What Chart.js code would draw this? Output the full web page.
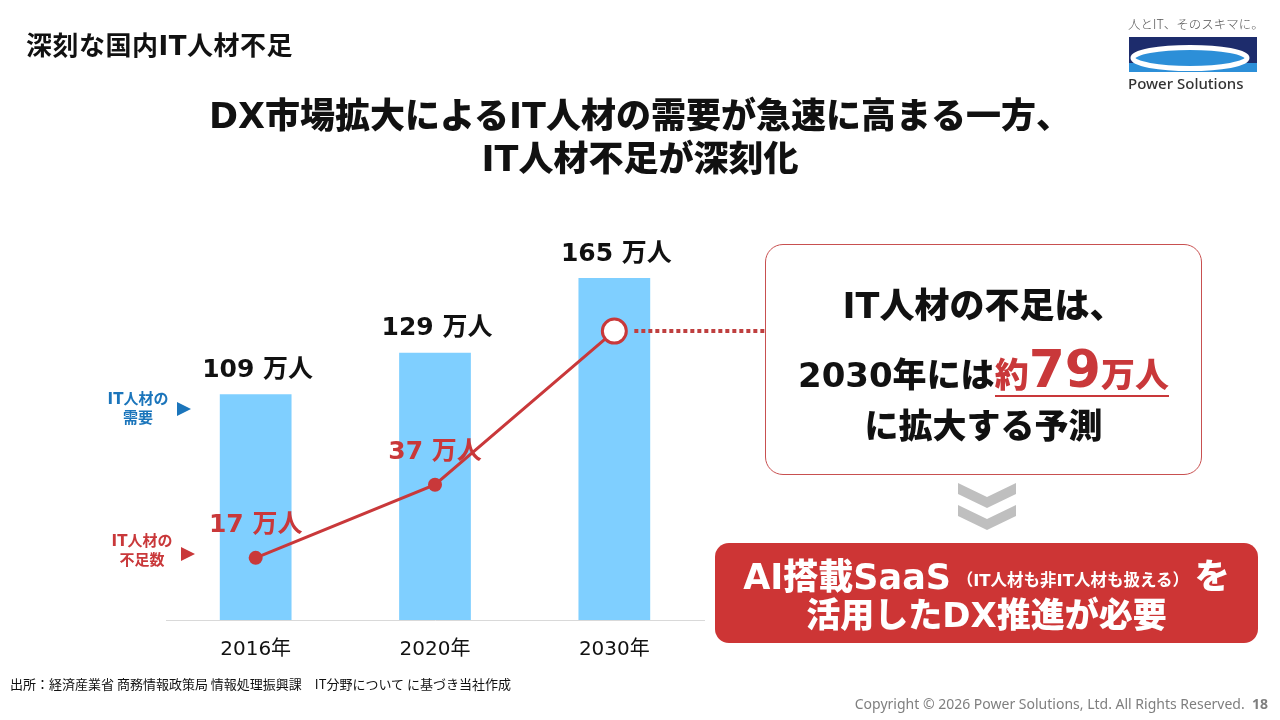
<!DOCTYPE html>
<html lang="ja">
<head>
<meta charset="utf-8">
<title>深刻な国内IT人材不足</title>
<script src="https://cdn.jsdelivr.net/npm/chart.js@4.4.1/dist/chart.umd.min.js"></script>
<style>
  html, body { margin: 0; padding: 0; }
  body {
    width: 1280px; height: 720px; overflow: hidden; position: relative;
    background: #fff; color: #111;
    font-family: 'DejaVu Sans', 'Noto Sans CJK JP', sans-serif;
  }
  .abs { position: absolute; }
  #chartBox { left: 0; top: 0; width: 1280px; height: 720px; }
  .title { left: 26px; top: 25px; font-size: 26px; font-weight: 700; letter-spacing: 0.5px; white-space: nowrap; }
  .head { left: 0; width: 1280px; text-align: center; font-size: 35px; font-weight: 900; white-space: nowrap; line-height: 44px; }
  .side { font-size: 15px; font-weight: 700; line-height: 19px; text-align: center; white-space: nowrap; }
  .tri { width: 0; height: 0; border-top: 7.5px solid transparent; border-bottom: 7.5px solid transparent; border-left: 14px solid; }
  .note {
    left: 765px; top: 244px; width: 437px; height: 231px; box-sizing: border-box;
    border: 1.5px solid #c85050; border-radius: 18px; background: #fff;
    text-align: center; font-weight: 900; font-size: 34px; white-space: nowrap;
  }
  .note .red { color: #c9383a; }
  .cta {
    left: 715px; top: 543px; width: 543px; height: 100px; border-radius: 14px;
    background: #cd3535; color: #fff; text-align: center; font-weight: 900; white-space: nowrap;
  }
  .src { left: 10px; top: 674px; font-size: 13px; font-family: 'Noto Sans CJK JP', sans-serif; white-space: nowrap; }
  .copy { right: 12px; top: 694px; font-size: 14px; color: #7f7f7f; font-family: 'Noto Sans', sans-serif; white-space: nowrap; }
</style>
</head>
<body>
<div id="chartBox" class="abs"><canvas id="myChart"></canvas></div>

<div class="abs title">深刻な国内IT人材不足</div>

<svg class="abs" style="left:1120px;top:8px" width="150" height="90" viewBox="1120 8 150 90">
  <text x="1128" y="29" font-size="12.5" fill="#555" font-family="'Noto Sans CJK JP'" font-weight="300">人とIT、そのスキマに。</text>
  <rect x="1129" y="37" width="128" height="35" fill="#1d2c6c"/>
  <rect x="1129" y="63" width="128" height="9" fill="#2c8fd8"/>
  <ellipse cx="1190" cy="58" rx="57" ry="10.5" fill="#2c8fd8" stroke="#fff" stroke-width="5"/>
  <text x="1128" y="89" font-size="15" fill="#333" font-family="'Noto Sans'" font-weight="500">Power Solutions</text>
</svg>

<div class="abs head" style="top:94px">DX市場拡大によるIT人材の需要が急速に高まる一方、</div>
<div class="abs head" style="top:137px">IT人材不足が深刻化</div>

<div class="abs side" style="left:100px;top:390px;width:76px;color:#1b75bb">IT人材の<br>需要</div>
<div class="abs tri" style="left:177px;top:402px;color:#1b75bb"></div>
<div class="abs side" style="left:104px;top:532px;width:76px;color:#c9383a">IT人材の<br>不足数</div>
<div class="abs tri" style="left:181px;top:547px;color:#c9383a"></div>

<div class="abs note">
  <div style="position:absolute;left:0;right:0;top:38px;line-height:46px;font-size:35px">IT人材の不足は、</div>
  <div style="position:absolute;left:0;right:0;top:96px;line-height:56px">
    <span id="noteYear"></span>には<span class="red" style="border-bottom:2.5px solid #c9383a;padding-bottom:0">約<span id="noteNum" style="font-size:52px"></span>万人</span>
  </div>
  <div style="position:absolute;left:0;right:0;top:158px;line-height:46px">に拡大する予測</div>
</div>

<svg class="abs" style="left:956px;top:481px" width="62" height="52" viewBox="0 0 62 52">
  <polygon points="2,2 31,16 60,2 60,13 31,27 2,13" fill="#bfbfbf"/>
  <polygon points="2,24 31,38 60,24 60,35 31,49 2,35" fill="#bfbfbf"/>
</svg>

<div class="abs cta">
  <div style="position:absolute;left:0;right:0;top:12px;line-height:44px;font-size:35px">AI搭載SaaS<span style="font-size:16.5px;font-weight:700;vertical-align:3px"> （IT人材も非IT人材も扱える） </span>を</div>
  <div style="position:absolute;left:0;right:0;top:50px;line-height:44px;font-size:34px">活用したDX推進が必要</div>
</div>

<div class="abs src">出所：経済産業省 商務情報政策局 情報処理振興課　IT分野について に基づき当社作成</div>
<div class="abs copy">Copyright © 2026 Power Solutions, Ltd. All Rights Reserved.&nbsp;&nbsp;<b style="font-size:14px">18</b></div>

<script>
// IT人材の需要と不足数（万人）
const years = ["2016年", "2020年", "2030年"];
const demand = [109, 129, 165];
const shortage = [17, 37, 79];
const unitLabel = " 万人";

const RED = "#c9383a";
const BLUE_BAR = "#7fcfff";

// 吹き出しの数字も配列から
document.getElementById("noteYear").textContent = years[years.length - 1];
document.getElementById("noteNum").textContent = shortage[shortage.length - 1];

const valueLabels = {
  id: "valueLabels",
  afterDatasetsDraw(chart) {
    const ctx = chart.ctx;
    const bars = chart.getDatasetMeta(0).data;
    const pts = chart.getDatasetMeta(1).data;
    ctx.save();
    ctx.textAlign = "center";
    ctx.textBaseline = "middle";
    ctx.font = "bold 25px 'DejaVu Sans', 'Noto Sans CJK JP'";
    ctx.fillStyle = "#111";
    bars.forEach((b, i) => ctx.fillText(demand[i] + unitLabel, b.x + 2, b.y - 24));
    ctx.fillStyle = RED;
    pts.forEach((p, i) => {
      if (i < pts.length - 1) ctx.fillText(shortage[i] + unitLabel, p.x, p.y - 32);
    });
    // 2030年の点から吹き出しへの点線
    const last = pts[pts.length - 1];
    ctx.strokeStyle = "#bf3f3f";
    ctx.lineWidth = 4;
    ctx.setLineDash([4, 3]);
    ctx.beginPath();
    ctx.moveTo(last.x + 20, last.y);
    ctx.lineTo(765, last.y);
    ctx.stroke();
    ctx.restore();
  }
};

const ctx = document.getElementById("myChart").getContext("2d");
const myChart = new Chart(ctx, {
  type: "bar",
  data: {
    labels: years,
    datasets: [
      {
        label: "IT人材の需要",
        data: demand,
        backgroundColor: BLUE_BAR,
        barPercentage: 0.4,
        categoryPercentage: 1,
        yAxisID: "y",
        order: 1,
      },
      {
        type: "line",
        label: "IT人材の不足数",
        data: shortage,
        borderColor: RED,
        borderWidth: 3,
        pointRadius: [7, 7, 12],
        pointBackgroundColor: [RED, RED, "#ffffff"],
        pointBorderColor: RED,
        pointBorderWidth: [0, 0, 3],
        fill: false,
        tension: 0,
        yAxisID: "y2",
        order: 0,
      },
    ],
  },
  options: {
    responsive: true,
    maintainAspectRatio: false,
    animation: false,
    layout: { padding: { left: 166, right: 576, top: 247, bottom: 40 } },
    plugins: { legend: { display: false }, tooltip: { enabled: false } },
    scales: {
      x: {
        grid: { display: true, drawOnChartArea: false, drawTicks: false },
        border: { display: true, color: "#d9d9d9", width: 1 },
        ticks: { color: "#111", padding: 18, font: { family: "'DejaVu Sans', 'Noto Sans CJK JP'", size: 20 } },
      },
      y: { display: false, min: 0, max: 180 },
      y2: { display: false, min: 0, max: 102 },
    },
  },
  plugins: [valueLabels],
});
</script>
</body>
</html>
